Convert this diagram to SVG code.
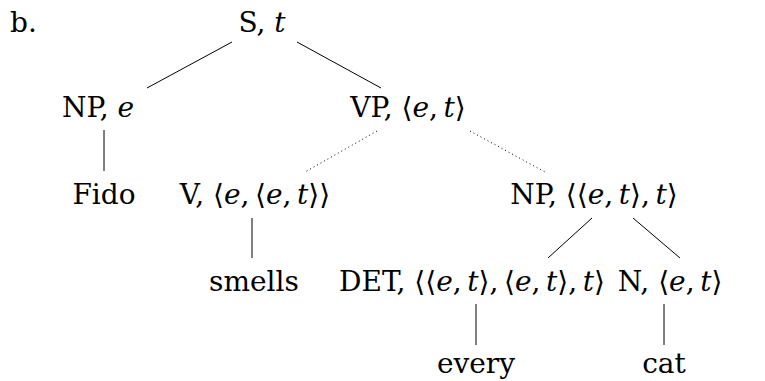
<svg xmlns="http://www.w3.org/2000/svg" width="765" height="381" viewBox="0 0 765 381">
  <style>
    text { font-family: "DejaVu Serif", "Liberation Serif", serif; font-size: 28px; fill: #000; text-anchor: middle; }
    .i { font-style: italic; }
    .edge { stroke: #000; stroke-width: 1; fill: none; }
    .dot { stroke-dasharray: 1 3; }
  </style>
  <rect width="765" height="381" fill="#fff"/>

  <text x="10" y="32" style="text-anchor:start">b.</text>

  <!-- tree edges; the two edges below VP are dotted -->
  <g id="connectors">
    <line class="edge" x1="232" y1="42" x2="147" y2="88"/>
    <line class="edge" x1="297" y1="42" x2="381" y2="88"/>
    <line class="edge" x1="104" y1="130" x2="104" y2="171"/>
    <line class="edge dot" x1="377" y1="131" x2="305" y2="172"/>
    <line class="edge dot" x1="470" y1="131" x2="545" y2="172"/>
    <line class="edge" x1="252" y1="218" x2="252" y2="258"/>
    <line class="edge" x1="592" y1="218" x2="548" y2="258"/>
    <line class="edge" x1="633" y1="218" x2="680" y2="258"/>
    <line class="edge" x1="476" y1="304" x2="476" y2="345"/>
    <line class="edge" x1="664" y1="304" x2="664" y2="345"/>
  </g>

  <!-- type brackets use a thin space after each comma, as in math mode -->
  <g id="node-s"><text x="262" y="32">S, <tspan class="i">t</tspan></text></g>
  <g id="node-np-subj"><text x="98" y="117">NP, <tspan class="i">e</tspan></text></g>
  <g id="node-fido"><text x="104" y="204">Fido</text></g>
  <g id="node-vp"><text x="408" y="117">VP, ⟨<tspan class="i">e</tspan>,&#8201;<tspan class="i">t</tspan>⟩</text></g>
  <g id="node-v"><text x="255" y="204">V, ⟨<tspan class="i">e</tspan>,&#8201;⟨<tspan class="i">e</tspan>,&#8201;<tspan class="i">t</tspan>⟩⟩</text></g>
  <g id="node-smells"><text x="254" y="291">smells</text></g>
  <g id="node-np-obj"><text x="594" y="204">NP, ⟨⟨<tspan class="i">e</tspan>,&#8201;<tspan class="i">t</tspan>⟩,&#8201;<tspan class="i">t</tspan>⟩</text></g>
  <g id="node-det"><text x="472" y="291">DET, ⟨⟨<tspan class="i">e</tspan>,&#8201;<tspan class="i">t</tspan>⟩,&#8201;⟨<tspan class="i">e</tspan>,&#8201;<tspan class="i">t</tspan>⟩,&#8201;<tspan class="i">t</tspan>⟩</text></g>
  <g id="node-n"><text x="670" y="291">N, ⟨<tspan class="i">e</tspan>,&#8201;<tspan class="i">t</tspan>⟩</text></g>
  <g id="node-every"><text x="476" y="373">every</text></g>
  <g id="node-cat"><text x="664" y="373">cat</text></g>
</svg>
